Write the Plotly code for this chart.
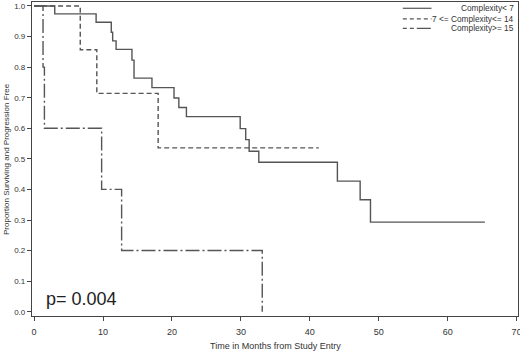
import plotly.graph_objects as go

# Kaplan-Meier step data
t_low = [0, 3.0, 9.0, 11.2, 11.4, 11.9, 14.2, 14.5, 17.1, 20.3, 21.0, 22.1, 29.9, 30.7, 31.2, 32.6, 44.0, 47.3, 48.8, 65.4]
s_low = [1.0, 0.974, 0.947, 0.914, 0.886, 0.858, 0.823, 0.764, 0.733, 0.699, 0.668, 0.638, 0.599, 0.563, 0.525, 0.489, 0.427, 0.366, 0.293, 0.293]

t_mid = [0, 6.7, 9.1, 18.0, 41.3]
s_mid = [1.0, 0.857, 0.714, 0.536, 0.536]

t_high = [0, 1.3, 1.5, 9.8, 12.7, 33.1]
s_high = [1.0, 0.8, 0.6, 0.4, 0.2, 0.0]

series_names = ["Complexity< 7", "7 <= Complexity<= 14", "Complexity>= 15"]
x_ticks = [0, 10, 20, 30, 40, 50, 60, 70]
y_ticks = [0.0, 0.1, 0.2, 0.3, 0.4, 0.5, 0.6, 0.7, 0.8, 0.9, 1.0]

LINE = "#555555"
dashes = ["solid", "5px,3px", "14px,3px,2px,3px"]

fig = go.Figure()
for (tx, sy, name, d) in [(t_low, s_low, series_names[0], dashes[0]),
                          (t_mid, s_mid, series_names[1], dashes[1]),
                          (t_high, s_high, series_names[2], dashes[2])]:
    fig.add_trace(go.Scatter(x=tx, y=sy, mode="lines", name=name,
                             line=dict(shape="hv", color=LINE, width=1.4, dash=d),
                             showlegend=False))

# custom legend (line sample then right-aligned text)
leg_y = [0.98, 0.946, 0.916]
leg_dash = ["solid", "4px,3px", "4px,3px,4px,3px,14px,3px"]
for name, d, yy in zip(series_names, leg_dash, leg_y):
    fig.add_shape(type="line", xref="paper", yref="paper", x0=0.763, x1=0.822, y0=yy, y1=yy,
                  line=dict(color=LINE, width=1.2, dash=d))
    fig.add_annotation(xref="paper", yref="paper", x=0.995, y=yy, text=name, showarrow=False,
                       xanchor="right", yanchor="middle", font=dict(size=8.3, color="#333333"))

fig.add_annotation(x=1.5, y=0.04, text="p= 0.004", showarrow=False, xanchor="left", yanchor="middle",
                   font=dict(size=18, color="#222222"))

# axis titles
fig.add_annotation(xref="paper", yref="paper", x=0.5, y=-0.0955, text="Time in Months from Study Entry",
                   showarrow=False, xanchor="center", yanchor="middle", font=dict(size=9, color="#333333"))
fig.add_annotation(xref="paper", yref="paper", x=-0.0535, y=0.5, text="Proportion Surviving and Progression Free",
                   showarrow=False, xanchor="center", yanchor="middle", textangle=-90,
                   font=dict(size=8, color="#333333"))

fig.update_layout(
    width=520, height=353,
    margin=dict(l=32, r=2, t=2, b=37),
    paper_bgcolor="white", plot_bgcolor="white",
    font=dict(family="Liberation Sans, Arial, sans-serif", color="#333333"),
)
fig.update_xaxes(range=[-0.3, 70.2], tickvals=x_ticks, ticks="outside", ticklen=4, tickcolor="#444",
                 showline=True, linecolor="#444", linewidth=1.2, mirror=True, showgrid=False, zeroline=False,
                 tickfont=dict(size=9), automargin=False, ticklabeloverflow="allow", ticklabelstandoff=3)
fig.update_yaxes(range=[-0.014, 1.013], tickvals=y_ticks, tickformat=".1f", ticks="outside", ticklen=4, tickcolor="#444",
                 showline=True, linecolor="#444", linewidth=1.2, mirror=True, showgrid=False, zeroline=False,
                 tickfont=dict(size=8), automargin=False, ticklabeloverflow="allow")

fig.write_html("out.html", config={"displayModeBar": False},
               post_script="document.body.style.margin='0';document.body.style.overflow='hidden';")
